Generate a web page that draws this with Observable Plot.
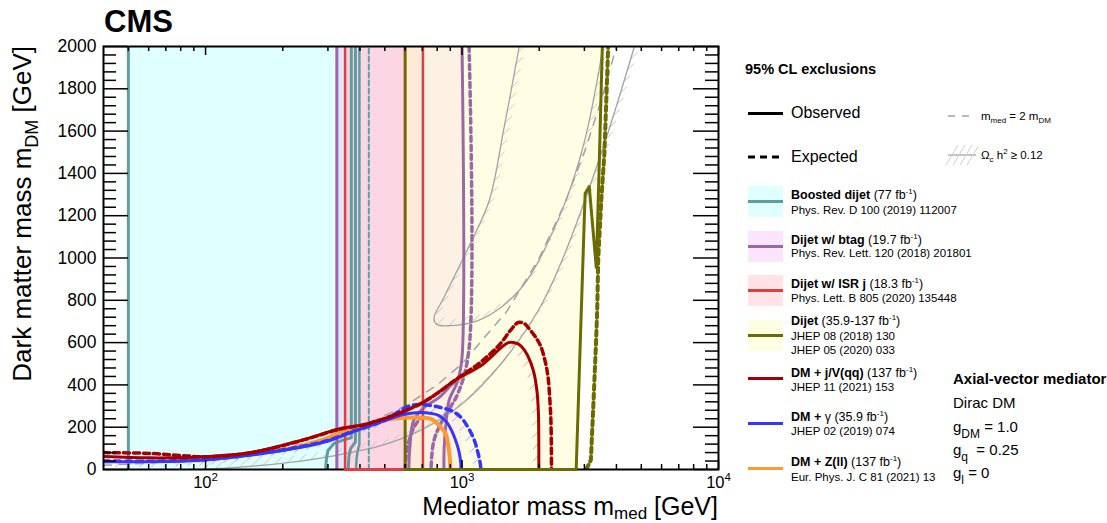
<!DOCTYPE html>
<html>
<head>
<meta charset="utf-8">
<script src="https://cdn.jsdelivr.net/npm/d3@7"></script>
<script src="https://cdn.jsdelivr.net/npm/@observablehq/plot@0.6"></script>
<style>
  body { margin: 0; background: #fff; }
  #chart { position: relative; width: 1107px; height: 523px; font-family: "Liberation Sans", Arial, Helvetica, sans-serif; color: #000; }
  #chart svg { position: absolute; left: 0; top: 0; }
  .lg { position: absolute; white-space: nowrap; height: 20px; line-height: 20px; }
  .sw { position: absolute; }
</style>
</head>
<body>
<div id="chart"></div>
<script>
// ---------------- axes ----------------
const xDomain = [40, 10000];
const yDomain = [0, 2000];
const xMajor = [100, 1000, 10000];
const xMinor = [50, 60, 70, 80, 90, 200, 300, 400, 500, 600, 700, 800, 900, 2000, 3000, 4000, 5000, 6000, 7000, 8000, 9000];
const yMajor = [0, 200, 400, 600, 800, 1000, 1200, 1400, 1600, 1800, 2000];
const yMinor = d3.range(40, 2000, 40).filter(v => v % 200 !== 0);

// ---------------- exclusion bands (mediator mass ranges, GeV) ----------------
const boostedBand = [50, 350];
const btagBand = [325, 1000];
const isrBand = [350, 704];

// ---------------- contours [m_med, m_DM] in GeV ----------------
// Boosted dijet (teal)
const boostedObsA = [[50, 0], [50, 2000]];
const boostedObsB = [[294, 0], [296, 50], [300, 90], [316, 122], [346, 140], [370, 150], [370, 2000]];
const boostedObsB2 = [[360, 0], [362, 60], [368, 100], [384, 130], [384, 2000]];
const boostedObsC = [[386, 0], [388, 50], [392, 90], [398, 120], [398, 2000]];
const boostedExp = [[433, 0], [433, 2000]];

// Dijet w/ btag (purple)
const btagObsA = [[325, 0], [325, 2000]];
const btagObsB = [[1000, 2000], [1000, 530], [963, 420], [890, 326], [868, 232], [852, 104], [850, 0]];
const btagObsC = [[620, 0], [626, 104], [648, 232], [711, 293], [813, 340], [922, 406], [963, 420]];
const btagExpB = [[1065, 2000], [1063, 563], [963, 359], [850, 246], [777, 137], [757, 0]];
const btagExpC = [[600, 0], [612, 104], [650, 200], [692, 246]];

// Dijet w/ ISR jet (red)
const isrObs = [[350, 2000], [350, 0], [704, 0], [704, 2000]];

// Dijet (olive)
const dijetLow = 600;
const dijetObsRight = [[2787, 0], [2900, 650], [3020, 1305], [3133, 1338], [3338, 955], [3420, 1400], [3524, 2000]];
const dijetExpRight = [[3050, 0], [3180, 45], [3250, 300], [3330, 600], [3365, 752], [3398, 1000], [3491, 1272], [3590, 1494], [3715, 2000]];

// DM + j/V(qq) (dark red)
const monojetObs = [[40, 61], [61, 55], [85, 57], [100, 61], [150, 80], [235, 137], [337, 194], [429, 217], [692, 312], [963, 430], [1188, 492], [1515, 600], [1620, 598], [1700, 583], [1800, 540], [1900, 465], [1960, 370], [1985, 270], [1992, 140], [1993, 0]];
const monojetExp = [[40, 80], [61, 76], [85, 64], [100, 60], [150, 79], [235, 136], [337, 192], [429, 216], [692, 312], [963, 432], [1188, 510], [1400, 590], [1550, 660], [1655, 695], [1750, 690], [1806, 673], [1950, 620], [2034, 578], [2120, 500], [2165, 436], [2200, 330], [2221, 232], [2230, 100], [2232, 0]];

// DM + photon (blue)
const photonObs = [[40, 37], [70, 38], [100, 45], [150, 68], [235, 105], [300, 135], [370, 175], [483, 225], [600, 262], [692, 270], [760, 265], [813, 255], [870, 225], [922, 170], [955, 120], [975, 80], [988, 35], [991, 0]];
const photonExp = [[40, 40], [70, 40], [100, 47], [150, 70], [235, 108], [300, 137], [370, 178], [483, 225], [632, 303], [730, 305], [826, 293], [920, 275], [991, 246], [1060, 195], [1118, 137], [1150, 85], [1172, 43], [1186, 0]];

// DM + Z(ll) (orange)
const zllObs = [[75, 43], [100, 52], [129, 66], [180, 85], [235, 110], [300, 150], [368, 194], [420, 212], [496, 233], [560, 242], [632, 246], [700, 245], [760, 238], [826, 200], [866, 165], [881, 123], [892, 76], [900, 20], [902, 0]];

// Relic density (Omega h^2 = 0.12) and m_med = 2 m_DM
const relicLow = [[93, 0], [120, 6], [160, 18], [235, 40], [300, 60], [483, 113], [700, 190], [1000, 310], [1419, 500], [2000, 760], [2453, 988], [3500, 1500], [4700, 2000]];
const relicHook = [[1671, 2000], [1450, 1600], [1277, 1272], [1059, 1050], [850, 813], [777, 714], [800, 685], [900, 680], [1153, 704], [1500, 790], [1806, 900], [2500, 1250], [3000, 1550], [3550, 2000]];
const diagonal = [[40, 20], [60, 30], [100, 50], [150, 75], [200, 100], [300, 150], [400, 200], [600, 300], [800, 400], [1000, 500], [1500, 750], [2000, 1000], [2500, 1250], [3000, 1500], [3500, 1750], [4000, 2000]];

// ---------------- legend content ----------------
const legendBold = ["Boosted dijet", "Dijet w/ btag", "Dijet w/ ISR j", "Dijet", "DM + j/V(qq)", "DM +", "DM + Z(ll)"];
const legendPre = ["", "", "", "", "", " \u03b3", ""];
const legendLumi = ["77", "19.7", "18.3", "35.9-137", "137", "35.9", "137"];
const legendRefs = [["Phys. Rev. D 100 (2019) 112007"], ["Phys. Rev. Lett. 120 (2018) 201801"], ["Phys. Lett. B 805 (2020) 135448"], ["JHEP 08 (2018) 130", "JHEP 05 (2020) 033"], ["JHEP 11 (2021) 153"], ["JHEP 02 (2019) 074"], ["Eur. Phys. J. C 81 (2021) 13"]];

// ---------------- styling ----------------
const TEAL = "#5f9ea0", PURPLE = "#9a68a8", RED = "#dc4040", OLIVE = "#6b6b00",
      DARKRED = "#a50000", BLUE = "#3535ff", ORANGE = "#ff9933", GRAY = "#a3a3a3";
const FILLS = {
  boosted: {fill: "#e0ffff", op: 1},
  btag: {fill: "#f0a8f0", op: 0.3},
  isr: {fill: "#ffc8ce", op: 0.5},
  dijet: {fill: "#fdfdc9", op: 0.5}
};
const W = 1107, H = 523;
const mL = 103, mR = 389, mT = 46, mB = 54;
const plotW = W - mL - mR, plotH = H - mT - mB;

const xs = Plot.scale({x: {type: "log", domain: xDomain, range: [mL, W - mR]}});
const ys = Plot.scale({y: {type: "linear", domain: yDomain, range: [H - mB, mT]}});

// short hatch strokes walked along a contour in screen space
function hatch(pts, step, hx, hy) {
  const scr = pts.map(([x, y]) => [xs.apply(x), ys.apply(y)]);
  const out = [];
  let acc = step / 2;
  for (let i = 1; i < scr.length; i++) {
    const [x0, y0] = scr[i - 1], [x1, y1] = scr[i];
    const seg = Math.hypot(x1 - x0, y1 - y0);
    while (acc <= seg) {
      const t = acc / seg;
      const px = x0 + t * (x1 - x0), py = y0 + t * (y1 - y0);
      out.push({x1: xs.invert(px), y1: ys.invert(py), x2: xs.invert(px + hx), y2: ys.invert(py + hy)});
      acc += step;
    }
    acc -= seg;
  }
  return out;
}

const X = d => d[0], Y = d => d[1];
const band = (b, f) => Plot.rect([b], {x1: d => d[0], x2: d => d[1], y1: yDomain[0], y2: yDomain[1], fill: f.fill, fillOpacity: f.op});
const line = (pts, stroke, width, dash, curve = "linear", clip = true) =>
  Plot.line(pts, {x: X, y: Y, stroke, strokeWidth: width, strokeDasharray: dash, curve, clip});
const hatches = (pts, stroke, step, hx, hy, width = 1) =>
  Plot.link(hatch(pts, step, hx, hy), {x1: "x1", y1: "y1", x2: "x2", y2: "y2", stroke, strokeWidth: width, clip: true});

const marks = [
  band(boostedBand, FILLS.boosted),
  band(btagBand, FILLS.btag),
  band(isrBand, FILLS.isr),
  Plot.areaX(dijetObsRight, {y: Y, x1: dijetLow, x2: X, fill: FILLS.dijet.fill, fillOpacity: FILLS.dijet.op, clip: true}),

  // relic density lines and m_med = 2 m_DM
  hatches(relicLow, "#c8c8c8", 12, 7, -7),
  hatches(relicHook, "#c8c8c8", 12, 7, -7),
  line(relicLow, GRAY, 1.3, null, "catmull-rom"),
  line(relicHook, GRAY, 1.3, null, "catmull-rom"),
  line(diagonal, GRAY, 1.5, "8,8"),

  // vertical-ish contours
  line(boostedObsA, TEAL, 3),
  line(boostedObsB, TEAL, 3),
  line(boostedObsB2, TEAL, 3),
  line(boostedObsC, TEAL, 2.5),
  line(boostedExp, TEAL, 2, "5,3"),
  line(btagObsA, PURPLE, 3),
  line(btagObsB, PURPLE, 3, null, "catmull-rom"),
  line(btagObsC, PURPLE, 3, null, "catmull-rom"),
  line(btagExpB, PURPLE, 3.5, "5,4", "catmull-rom"),
  line(btagExpC, PURPLE, 3.5, "5,4", "catmull-rom"),
  line(isrObs, RED, 2.5),
  line([[dijetLow, 2000], [dijetLow, 0], ...dijetObsRight], OLIVE, 3),
  line(dijetExpRight, OLIVE, 4, "5,4"),

  // mono-X contours
  hatches(monojetObs, "#e8a0a0", 12, -6, 6),
  hatches(photonExp, "#a8a8ff", 12, -6, 6),
  line(zllObs, ORANGE, 4, null, "catmull-rom"),
  line(photonObs, BLUE, 3, null, "catmull-rom"),
  line(photonExp, BLUE, 3.5, "6,5", "catmull-rom"),
  line(monojetExp, DARKRED, 3.5, "6,4", "catmull-rom"),
  line(monojetObs, DARKRED, 3, null, "catmull-rom"),

  // ticks drawn inside the frame
  Plot.tickY(yMajor, {y: d => d, insetRight: plotW - 25, stroke: "black", strokeWidth: 1.5}),
  Plot.tickY(yMinor, {y: d => d, insetRight: plotW - 13, stroke: "black", strokeWidth: 1.5}),
  Plot.tickY(yMajor, {y: d => d, insetLeft: plotW - 25, stroke: "black", strokeWidth: 1.5}),
  Plot.tickY(yMinor, {y: d => d, insetLeft: plotW - 13, stroke: "black", strokeWidth: 1.5}),
  Plot.tickX(xMajor, {x: d => d, insetTop: plotH - 9, stroke: "black", strokeWidth: 1.5}),
  Plot.tickX(xMinor, {x: d => d, insetTop: plotH - 5, stroke: "black", strokeWidth: 1.5}),
  Plot.tickX(xMajor, {x: d => d, insetBottom: plotH - 9, stroke: "black", strokeWidth: 1.5}),
  Plot.tickX(xMinor, {x: d => d, insetBottom: plotH - 5, stroke: "black", strokeWidth: 1.5}),
  Plot.frame({stroke: "black", strokeWidth: 2}),
  // exclusion edges lying on the m_DM = 0 axis
  line([[isrBand[0], 0], [dijetLow, 0]], RED, 3, null, "linear", false),
  line([[dijetLow, 0], [dijetObsRight[0][0], 0]], OLIVE, 3, null, "linear", false),

  // tick labels
  Plot.text(yMajor, {y: d => d, text: d => String(d), frameAnchor: "left", dx: -7, textAnchor: "end", fontSize: 17.5}),
  Plot.text(xMajor, {x: d => d, text: d => "10^" + Math.round(Math.log10(d)), frameAnchor: "bottom", dy: 13.5, fontSize: 16.5, className: "xtick"}),

  // titles
  Plot.text(["CMS"], {frameAnchor: "top-left", textAnchor: "start", fontSize: 31, fontWeight: "bold", className: "cms"}),
  Plot.text(["Mediator mass m_med [GeV]"], {frameAnchor: "bottom-right", textAnchor: "end", fontSize: 25, className: "xlabel"}),
  Plot.text(["Dark matter mass m_DM [GeV]"], {frameAnchor: "top-left", textAnchor: "end", fontSize: 26, className: "ylabel"})
];

const svg = Plot.plot({
  width: W, height: H,
  marginLeft: mL, marginRight: mR, marginTop: mT, marginBottom: mB,
  style: {fontFamily: "\"Liberation Sans\", Arial, Helvetica, sans-serif", background: "white", color: "black", overflow: "visible"},
  x: {type: "log", domain: xDomain, axis: null},
  y: {domain: yDomain, axis: null},
  marks
});

// rich text: superscripts, subscripts and exact baselines
const root = d3.select(svg);
root.selectAll("g.xtick text").each(function () {
  const t = d3.select(this);
  const [base, exp] = t.text().split("^");
  t.text(null);
  t.append("tspan").attr("dy", "0.32em").text(base);
  t.append("tspan").attr("dy", "-7").attr("font-size", 11.5).text(exp);
});
function subscripted(cls, pre, subText, post, shift, size) {
  root.selectAll(`g.${cls} text`).each(function () {
    const t = d3.select(this);
    t.text(null);
    t.append("tspan").text(pre);
    t.append("tspan").attr("dy", shift).attr("font-size", size).text(subText);
    t.append("tspan").attr("dy", -shift).text(post);
  });
}
subscripted("xlabel", "Mediator mass m", "med", " [GeV]", 4, 17);
subscripted("ylabel", "Dark matter mass m", "DM", " [GeV]", 7, 18);
function baseline(cls, x, y, rot) {
  root.selectAll(`g.${cls}`).attr("transform", null).selectAll("text")
    .attr("x", null).attr("y", null).attr("dx", null).attr("dy", null)
    .attr("transform", `translate(${x},${y})` + (rot ? ` rotate(${rot})` : ""));
}
baseline("cms", mL + 1, 32);
baseline("xlabel", W - mR, 514.5);
baseline("ylabel", 31, mT, -90);

const chart = document.getElementById("chart");
chart.appendChild(svg);

// ---------------- legend ----------------
function put(html, x, yc, style = "") {
  const d = document.createElement("div");
  d.className = "lg";
  d.style.cssText = `left:${x}px;top:${yc - 10}px;${style}`;
  d.innerHTML = html;
  chart.appendChild(d);
  return d;
}
function swatchLine(x, yc, w, color, width) {
  const d = document.createElement("div");
  d.className = "sw";
  d.style.cssText = `left:${x}px;top:${yc - width / 2}px;width:${w}px;height:0;border-top:${width}px solid ${color};`;
  chart.appendChild(d);
}
function swatchBox(x, yc, w, h, f) {
  const d = document.createElement("div");
  d.className = "sw";
  d.style.cssText = `left:${x}px;top:${yc - h / 2}px;width:${w}px;height:${h}px;background:${f.fill};opacity:${f.op};`;
  chart.appendChild(d);
}
function swatchSvg(x, y, w, h, inner) {
  const s = document.createElementNS("http://www.w3.org/2000/svg", "svg");
  s.setAttribute("width", w); s.setAttribute("height", h);
  s.style.cssText = `position:absolute;left:${x}px;top:${y}px`;
  s.innerHTML = inner;
  chart.appendChild(s);
}
const sup = s => `<span style="font-size:8px;position:relative;top:-5px">${s}</span>`;
const sub = (s, px = 9, dy = 4) => `<span style="font-size:${px}px;position:relative;top:${dy}px">${s}</span>`;

put("95% CL exclusions", 745, 69, "font-weight:bold;font-size:14.5px");
swatchLine(748, 113, 35, "#000", 3);
put("Observed", 791, 113, "font-size:16px");
swatchSvg(748, 152, 40, 10, `<line x1="0" y1="5" x2="35" y2="5" stroke="#000" stroke-width="3" stroke-dasharray="7,5"/>`);
put("Expected", 791, 157, "font-size:16px");
swatchSvg(946, 100, 32, 32, `<line x1="2" y1="16" x2="30" y2="16" stroke="${GRAY}" stroke-width="1.3" stroke-dasharray="7,7"/>`);
swatchSvg(946, 139, 32, 32, `<line x1="2" y1="16" x2="30" y2="16" stroke="${GRAY}" stroke-width="1.3"/>` +
  [4, 11, 18, 25].map(x => `<line x1="${x - 4}" y1="26" x2="${x + 8}" y2="6" stroke="#cfcfcf" stroke-width="1"/>`).join(""));
put(`m${sub("med", 8, 3)} = 2 m${sub("DM", 8, 3)}`, 981, 116, "font-size:11.5px");
put(`\u03a9${sub("c", 8, 3)} h${sup("2")} \u2265 0.12`, 981, 155, "font-size:11.5px");

const entryLine = [201.7, 246, 290.7, 335, 378, 423, 468];
const entryTitle = [195, 240, 284, 321, 373, 417, 462];
const entryRef = [210, 253, 298, 336, 387, 431, 477];
const entryColor = [TEAL, PURPLE, RED, OLIVE, DARKRED, BLUE, ORANGE];
const entryFill = [FILLS.boosted, FILLS.btag, FILLS.isr, FILLS.dijet, null, null, null];
legendBold.forEach((name, i) => {
  if (entryFill[i]) swatchBox(748, entryLine[i], 35, 31, entryFill[i]);
  swatchLine(748, entryLine[i], 35, entryColor[i], 3);
  put(`<b>${name}</b>${legendPre[i]} (${legendLumi[i]} fb${sup("-1")})`, 791, entryTitle[i], "font-size:12.5px");
  legendRefs[i].forEach((r, j) => put(r, 791, entryRef[i] + j * 14, "font-size:11.5px"));
});

put("Axial-vector mediator", 953, 379, "font-weight:bold;font-size:15px");
put("Dirac DM", 953, 403, "font-size:15px");
put(`g${sub("DM", 12, 6)} = 1.0`, 953, 427, "font-size:15px");
put(`g${sub("q", 12, 6)}&nbsp; = 0.25`, 953, 450, "font-size:15px");
put(`g${sub("l", 12, 6)} = 0`, 953, 473, "font-size:15px");
</script>
</body>
</html>
